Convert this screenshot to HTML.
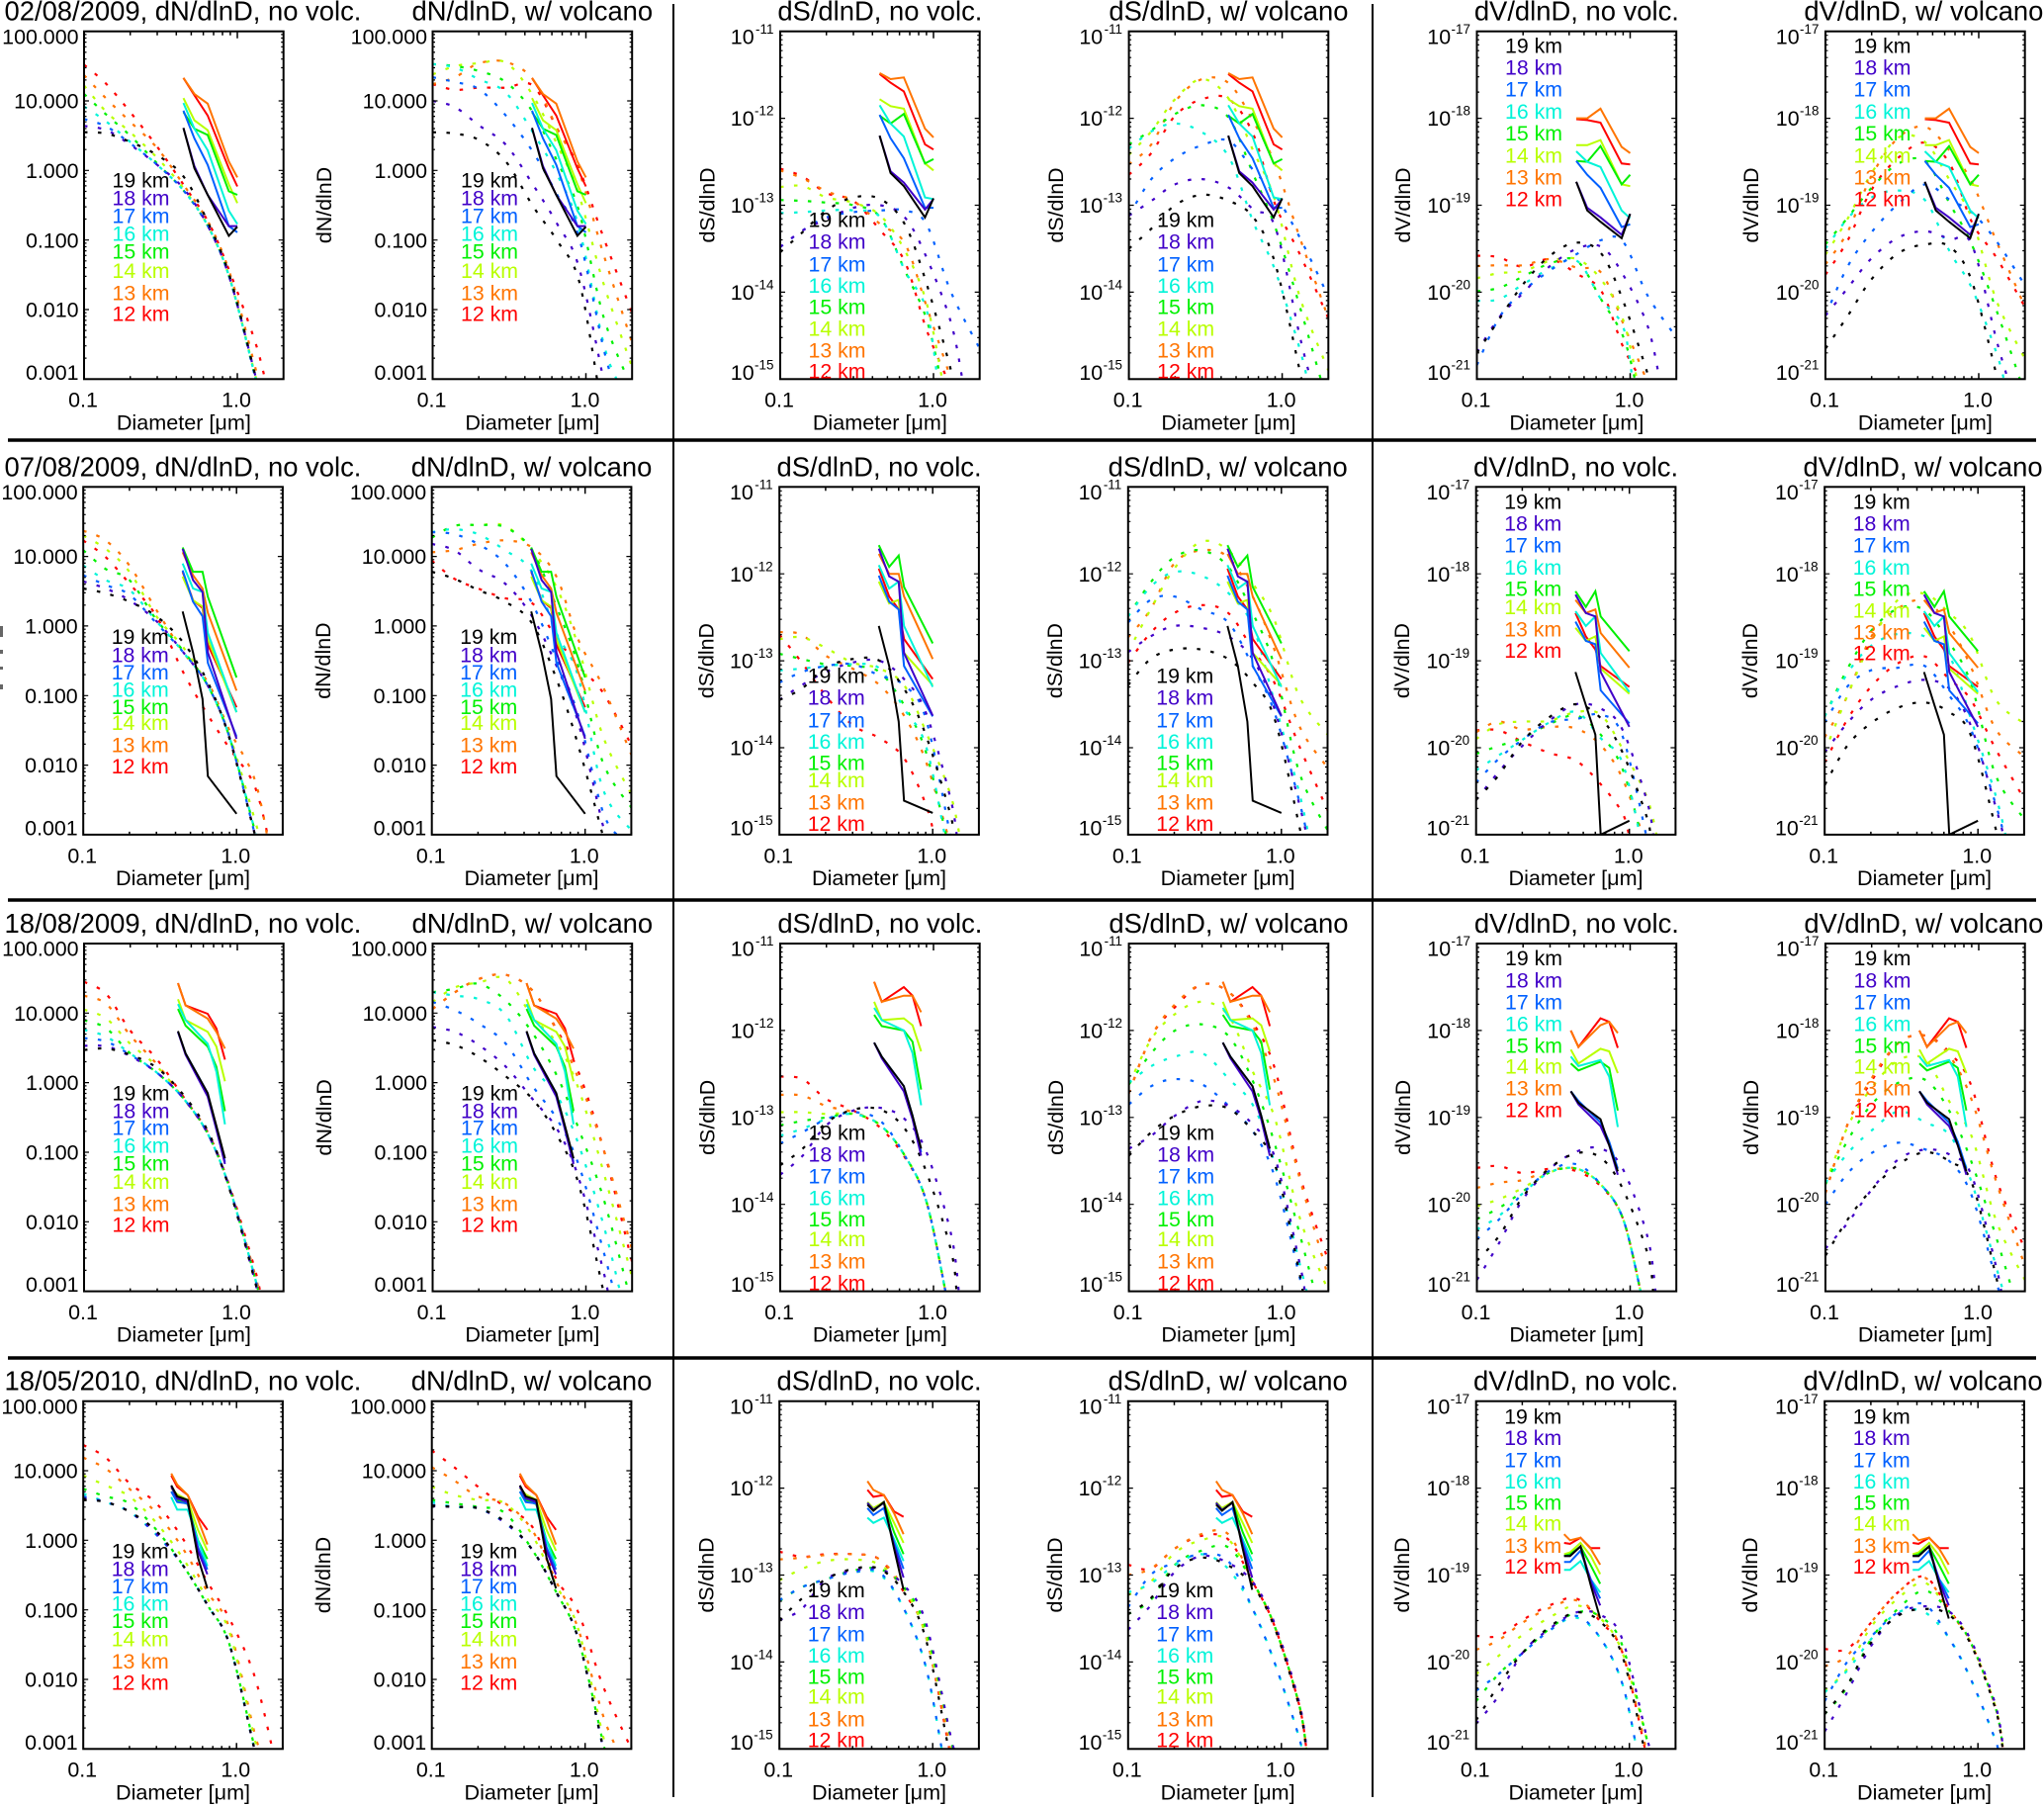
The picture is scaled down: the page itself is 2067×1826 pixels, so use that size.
<!DOCTYPE html>
<html lang="en">
<head>
<meta charset="utf-8">
<title>Aerosol size distributions by altitude</title>
<style>
html,body{margin:0;padding:0;background:#fff;overflow:hidden;}
svg{display:block;font-family:"Liberation Sans",sans-serif;}
</style>
</head>
<body>
<svg id="figure" xmlns="http://www.w3.org/2000/svg" width="2067" height="1826" viewBox="0 0 2067 1826">
<rect x="0" y="0" width="2067" height="1826" fill="#fff"/>
<line x1="8" x2="2059" y1="445" y2="445" stroke="#000" stroke-width="3.5"/>
<line x1="8" x2="2059" y1="910" y2="910" stroke="#000" stroke-width="3.5"/>
<line x1="8" x2="2059" y1="1373" y2="1373" stroke="#000" stroke-width="3.5"/>
<line x1="681" x2="681" y1="4" y2="1817" stroke="#000" stroke-width="2"/>
<line x1="1388" x2="1388" y1="4" y2="1817" stroke="#000" stroke-width="2"/>
<g fill="#666">
<rect x="0" y="633" width="3" height="11"/><rect x="0" y="657" width="3" height="4"/><rect x="0" y="674" width="3" height="3"/><rect x="0" y="692" width="3" height="5"/>
</g>
</svg>
<script>
// All curve values are log10 of the plotted quantity; series order is 19,18,17,16,15,14,13,12 km.
const altitudes = ['19 km','18 km','17 km','16 km','15 km','14 km','13 km','12 km'];
const altitudeColors = ['#000000','#4000c8','#0060ff','#00f4d8','#00f000','#b8ff00','#ff7400','#ff0000'];
const dates = ['02/08/2009','07/08/2009','18/08/2009','18/05/2010'];
const panelTitles = ['dN/dlnD, no volc.','dN/dlnD, w/ volcano','dS/dlnD, no volc.','dS/dlnD, w/ volcano','dV/dlnD, no volc.','dV/dlnD, w/ volcano'];
const yTitles = ['dN/dlnD','dN/dlnD','dS/dlnD','dS/dlnD','dV/dlnD','dV/dlnD'];
const xTickValues = [0.1,1.0];
const xTickLabels = ['0.1','1.0'];
const xMinorTicks = [0.2,0.3,0.4,0.5,0.6,0.7,0.8,0.9,2.0];
const xAxisTitle = 'Diameter [\u03bcm]';
const dnTickLabels = ['100.000','10.000','1.000','0.100','0.010','0.001'];
const dnTickLogs = [2,1,0,-1,-2,-3];
const dsTickLabels = ['-11','-12','-13','-14','-15'];
const dsTickLogs = [-11,-12,-13,-14,-15];
const dvTickLabels = ['-17','-18','-19','-20','-21'];
const dvTickLogs = [-17,-18,-19,-20,-21];

const modelDiameters = [0.1,0.14,0.2,0.3,0.45,0.65,0.9,1.3,2.0];

const r1DnNo = [[.55,.53,.41,.22,-.1,-.77,-1.55,-2.92,-4.6],[.64,.58,.37,.08,-.27,-.82,-1.58,-2.92,-4.6],[.74,.63,.39,.08,-.3,-.82,-1.58,-2.95,-4.6],[.92,.7,.41,.08,-.3,-.82,-1.58,-2.95,-4.6],[1.1,.8,.5,.1,-.3,-.82,-1.58,-2.95,-4.6],[1.22,.84,.55,.18,-.27,-.82,-1.58,-2.92,-4.6],[1.37,1.03,.7,.32,-.22,-.75,-1.5,-2.81,-4.4],[1.52,1.24,.84,.34,-.22,-.75,-1.48,-2.45,-4]];
const r1DnVolc = [[.55,.53,.44,.13,-.51,-1.01,-1.58,-3.5,-5.5],[1,.91,.65,.37,-.2,-.77,-1.39,-3,-5],[1.34,1.27,1.17,.79,.27,-.35,-.96,-2.55,-4],[1.53,1.48,1.31,1.12,.55,-.06,-.82,-2.48,-3.6],[1.53,1.5,1.43,1.27,.84,.13,-.58,-2.1,-3.15],[1.38,1.5,1.54,1.55,1.08,.37,-.35,-1.62,-2.83],[1.24,1.34,1.54,1.56,1.31,.6,-.01,-1.2,-2.48],[1.24,1.16,1.19,1.19,1.22,.6,.03,-.96,-2.05]];
const r1DsNo = [[-13.54,-13.31,-13.06,-12.91,-12.93,-13.22,-13.9,-14.9,-17],[-13.48,-13.29,-13.16,-13.03,-13,-13.14,-13.6,-14.35,-16],[-13.48,-13.29,-13.14,-13.08,-13.06,-13.06,-13.22,-14,-14.65],[-13.09,-13.08,-13.06,-13.06,-13.14,-13.75,-14.2,-16,-18],[-12.94,-12.95,-12.97,-13,-13.14,-13.75,-14.31,-15.5,-18],[-12.79,-12.78,-12.91,-12.97,-13.12,-13.52,-14.12,-15.5,-18],[-12.6,-12.69,-12.84,-12.95,-13.22,-13.44,-14.16,-15,-18],[-12.58,-12.67,-12.86,-12.95,-13.29,-13.65,-14.43,-15.1,-18]];
const r1DsVolc = [[-13.5,-13.27,-13,-12.88,-12.95,-13.14,-13.67,-14.9,-17],[-13.12,-12.95,-12.76,-12.7,-12.8,-13.05,-13.25,-14.5,-15.8],[-13.12,-12.7,-12.46,-12.31,-12.26,-12.6,-12.88,-13.37,-14.05],[-12.35,-12.15,-12.06,-12.16,-12.45,-13.2,-13.75,-14.65,-16],[-12.3,-12.14,-11.95,-11.85,-12,-12.65,-13.25,-14.16,-15.3],[-12.42,-12.15,-11.78,-11.55,-11.78,-12.38,-12.95,-14.05,-14.9],[-12.53,-12.3,-11.81,-11.55,-11.6,-12.04,-12.53,-13.37,-14.3],[-12.65,-12.4,-11.97,-11.78,-11.78,-12.19,-12.99,-13.56,-14.3]];
const r1DvNo = [[-20.7,-20.31,-19.91,-19.58,-19.43,-19.56,-20.1,-20.94,-22.87],[-20.69,-20.29,-20.01,-19.7,-19.5,-19.48,-19.8,-20.39,-21.87],[-20.84,-20.29,-19.99,-19.75,-19.56,-19.4,-19.42,-20.04,-20.52],[-20.1,-20.08,-19.91,-19.73,-19.64,-20.09,-20.4,-22,-24],[-19.99,-19.95,-19.82,-19.67,-19.64,-20.09,-20.51,-21.54,-24],[-19.84,-19.78,-19.76,-19.64,-19.62,-19.86,-20.32,-21.54,-24],[-19.7,-19.69,-19.69,-19.62,-19.72,-19.78,-20.36,-21.04,-24],[-19.58,-19.6,-19.71,-19.62,-19.79,-19.99,-20.63,-21.14,-24]];
const r1DvVolc = [[-20.65,-20.27,-19.85,-19.55,-19.45,-19.48,-19.87,-20.94,-22.87],[-20.27,-19.95,-19.61,-19.37,-19.3,-19.39,-19.45,-20.54,-21.67],[-20.27,-19.7,-19.31,-18.98,-18.76,-18.94,-19.08,-19.41,-19.92],[-19.5,-19.15,-18.91,-18.83,-18.95,-19.54,-19.95,-20.69,-21.87],[-19.45,-19.14,-18.8,-18.52,-18.5,-18.99,-19.45,-20.2,-21.17],[-19.57,-19.15,-18.63,-18.22,-18.28,-18.72,-19.15,-20.09,-20.77],[-19.68,-19.3,-18.66,-18.22,-18.1,-18.38,-18.73,-19.41,-20.17],[-19.8,-19.4,-18.82,-18.45,-18.28,-18.53,-19.19,-19.6,-20.17]];

const r2DnNo = [[.54,.47,.35,.14,-.24,-.81,-1.62,-2.95,-4.7],[.64,.54,.37,.07,-.38,-.86,-1.6,-2.95,-4.7],[.73,.59,.45,.04,-.38,-.86,-1.6,-2.95,-4.7],[.87,.66,.52,.07,-.38,-.86,-1.6,-2.9,-4.7],[1.09,.82,.66,.09,-.36,-.86,-1.6,-2.9,-4.7],[1.3,1.11,.78,.14,-.31,-.86,-1.57,-2.75,-4.2],[1.37,1.23,.87,.23,-.38,-.81,-1.5,-2.18,-4],[1.23,.99,.61,.14,-.67,-1.28,-1.76,-2.28,-3.8]];
const r2DnVolc = [[.78,.68,.52,.35,.04,-.76,-1.71,-3,-5],[1.18,1.09,.82,.61,.14,-.57,-1.38,-2.85,-4],[1.35,1.32,1.18,.9,.33,-.48,-1.28,-2.66,-3.3],[1.35,1.39,1.32,1.09,.78,-.1,-.72,-2.33,-2.94],[1.27,1.44,1.45,1.42,1.09,.28,-.57,-1.95,-2.61],[1.27,1.44,1.45,1.44,1.09,.56,-.29,-1.57,-2.42],[1.06,1.09,1.18,1.23,1.13,.71,-.19,-.86,-1.85],[.94,.68,.54,.4,.33,-.17,-.57,-.95,-1.71]];
const r2DsNo = [[-13.45,-13.32,-13.08,-12.98,-13,-13.32,-13.85,-14.76,-17],[-13.45,-13.28,-13.13,-13.02,-13,-13.21,-13.59,-14.57,-16.5],[-13.25,-13.13,-13.06,-13.04,-13.17,-13.28,-13.66,-15,-18],[-13.11,-13.09,-13.06,-13.04,-13.09,-13.55,-13.97,-15.3,-18],[-12.92,-12.98,-13.04,-13.06,-13.13,-13.51,-14.04,-15.2,-18],[-12.75,-12.73,-12.85,-13.02,-13.09,-13.28,-13.81,-14.53,-16],[-12.67,-12.7,-12.94,-13.09,-13.28,-13.63,-14.15,-15.1,-18],[-12.7,-13.02,-13.4,-13.74,-13.89,-14.12,-14.65,-15.7,-18]];
const r2DsVolc = [[-13.28,-12.98,-12.87,-12.87,-12.98,-13.25,-13.66,-14.88,-17],[-12.9,-12.72,-12.6,-12.62,-12.72,-12.98,-13.55,-14.63,-16],[-12.56,-12.3,-12.26,-12.41,-12.56,-13.06,-13.59,-14.6,-16],[-12.49,-12.15,-11.98,-12.02,-12.22,-12.6,-13.47,-14.5,-16],[-12.49,-12.1,-11.81,-11.73,-11.92,-12.45,-13.06,-14.27,-14.95],[-12.9,-12.41,-11.94,-11.63,-11.73,-12.11,-12.53,-13.4,-13.85],[-12.73,-12.41,-11.88,-11.73,-11.81,-12.26,-12.87,-13.74,-14.23],[-13.02,-12.68,-12.45,-12.36,-12.45,-12.87,-13.25,-13.97,-14.72]];
const r2DvNo = [[-20.6,-20.32,-19.93,-19.65,-19.5,-19.66,-20.05,-20.8,-22.87],[-20.6,-20.28,-19.98,-19.69,-19.5,-19.55,-19.79,-20.61,-22.37],[-20.4,-20.13,-19.91,-19.71,-19.67,-19.62,-19.86,-21.04,-24],[-20.26,-20.09,-19.91,-19.71,-19.59,-19.89,-20.17,-21.34,-24],[-20.07,-19.98,-19.89,-19.73,-19.63,-19.85,-20.24,-21.24,-24],[-19.9,-19.73,-19.7,-19.69,-19.59,-19.62,-20.01,-20.57,-21.87],[-19.82,-19.7,-19.79,-19.76,-19.78,-19.97,-20.35,-21.14,-24],[-19.8,-19.8,-19.93,-20.06,-20.15,-20.42,-20.75,-21.74,-24]];
const r2DvVolc = [[-20.43,-19.98,-19.72,-19.54,-19.48,-19.59,-19.86,-20.92,-22.87],[-20.05,-19.72,-19.45,-19.29,-19.22,-19.32,-19.75,-20.67,-21.87],[-19.71,-19.3,-19.11,-19.08,-19.06,-19.4,-19.79,-20.64,-21.87],[-19.64,-19.15,-18.83,-18.69,-18.72,-18.94,-19.67,-20.54,-21.87],[-19.64,-19.1,-18.66,-18.4,-18.42,-18.79,-19.26,-20.31,-20.82],[-20.05,-19.41,-18.79,-18.3,-18.23,-18.45,-18.73,-19.44,-19.72],[-19.88,-19.41,-18.73,-18.4,-18.31,-18.6,-19.07,-19.78,-20.1],[-20.17,-19.68,-19.3,-19.03,-18.95,-19.21,-19.45,-20.01,-20.59]];

const r3DnNo = [[.47,.49,.4,.21,-.19,-.72,-1.57,-2.85,-4.7],[.53,.52,.38,.14,-.24,-.76,-1.55,-2.85,-4.7],[.64,.59,.4,.14,-.24,-.76,-1.55,-2.8,-4.6],[.76,.66,.42,.14,-.24,-.76,-1.55,-2.8,-4.6],[.9,.78,.42,.14,-.24,-.76,-1.55,-2.8,-4.6],[1.05,.92,.56,.23,-.24,-.76,-1.55,-2.8,-4.6],[1.25,1.13,.68,.26,-.24,-.76,-1.55,-2.75,-4.5],[1.45,1.27,.75,.33,-.22,-.74,-1.52,-2.68,-4.5]];
const r3DnVolc = [[.61,.54,.37,.09,-.24,-.76,-1.47,-3,-5],[.8,.73,.54,.23,-.24,-.67,-1.38,-2.71,-4.7],[1.16,1.04,.85,.56,-.05,-.53,-1.19,-2.42,-4],[1.3,1.25,1.2,.97,.23,-.19,-.9,-2.04,-3.7],[1.3,1.35,1.42,1.18,.71,.09,-.67,-1.66,-3.2],[1.16,1.37,1.44,1.49,.94,.56,-.1,-1.28,-2.8],[1.06,1.3,1.49,1.55,1.32,.73,.04,-.95,-2.4],[1.06,1.3,1.49,1.55,1.32,.75,.14,-.95,-2.58]];
const r3DsNo = [[-13.55,-13.36,-13.06,-12.91,-12.91,-13.13,-13.63,-14.53,-17],[-13.66,-13.44,-13.09,-12.92,-12.89,-13.02,-13.4,-14.34,-16.8],[-13.3,-13.17,-13.02,-12.94,-13.04,-13.44,-13.97,-15.3,-18],[-13.21,-13.13,-13.02,-12.96,-13.09,-13.44,-13.97,-15.3,-18],[-13.09,-13.04,-13,-12.96,-13.09,-13.44,-13.97,-15.3,-18],[-12.94,-12.94,-12.96,-12.96,-13.09,-13.44,-13.97,-15.3,-18],[-12.74,-12.75,-12.87,-12.94,-13.09,-13.44,-13.97,-15.3,-18],[-12.53,-12.56,-12.79,-12.92,-13.12,-13.46,-13.97,-15.3,-18]];
const r3DsVolc = [[-13.44,-13.17,-12.98,-12.87,-12.9,-13.17,-13.55,-14.8,-17],[-13.36,-13.21,-12.98,-12.81,-12.87,-13.09,-13.47,-14.68,-16.5],[-12.85,-12.64,-12.56,-12.62,-12.87,-13.17,-13.7,-14.84,-16.5],[-12.6,-12.41,-12.3,-12.26,-12.56,-12.87,-13.55,-14.68,-16],[-12.62,-12.26,-12,-11.93,-12.07,-12.6,-13.32,-14.34,-15.6],[-12.62,-12.1,-11.81,-11.67,-11.84,-12.49,-13.02,-14.15,-15],[-12.72,-12.07,-11.7,-11.47,-11.56,-11.96,-12.6,-13.7,-14.84],[-12.72,-12.07,-11.73,-11.47,-11.56,-11.92,-12.45,-13.66,-14.65]];
const r3DvNo = [[-20.65,-20.36,-19.91,-19.58,-19.41,-19.47,-19.83,-20.57,-22.87],[-20.87,-20.44,-19.94,-19.59,-19.39,-19.36,-19.6,-20.38,-22.67],[-20.4,-20.17,-19.87,-19.61,-19.54,-19.78,-20.17,-21.34,-24],[-20.29,-20.13,-19.87,-19.63,-19.59,-19.78,-20.17,-21.34,-24],[-20.17,-20.04,-19.85,-19.63,-19.59,-19.78,-20.17,-21.34,-24],[-20.02,-19.94,-19.81,-19.63,-19.59,-19.78,-20.17,-21.34,-24],[-19.81,-19.75,-19.72,-19.61,-19.59,-19.78,-20.17,-21.34,-24],[-19.58,-19.56,-19.64,-19.59,-19.62,-19.8,-20.17,-21.34,-24]];
const r3DvVolc = [[-20.59,-20.17,-19.83,-19.54,-19.4,-19.51,-19.75,-20.84,-22.87],[-20.51,-20.21,-19.83,-19.48,-19.37,-19.43,-19.67,-20.72,-22.37],[-20,-19.64,-19.41,-19.29,-19.37,-19.51,-19.9,-20.88,-22.37],[-19.75,-19.41,-19.15,-18.93,-19.06,-19.21,-19.75,-20.72,-21.87],[-19.77,-19.26,-18.85,-18.6,-18.57,-18.94,-19.52,-20.38,-21.47],[-19.77,-19.1,-18.66,-18.34,-18.34,-18.83,-19.22,-20.19,-20.87],[-19.87,-19.07,-18.55,-18.14,-18.06,-18.3,-18.8,-19.74,-20.71],[-19.87,-19.07,-18.58,-18.14,-18.06,-18.26,-18.65,-19.7,-20.52]];

const r4DnNo = [[.58,.55,.41,.13,-.37,-.94,-1.5,-2.98,-4.5],[.6,.55,.41,.1,-.37,-.94,-1.5,-2.98,-4.5],[.63,.55,.41,.08,-.37,-.94,-1.5,-2.98,-4.5],[.67,.55,.41,.08,-.37,-.94,-1.5,-2.98,-4.5],[.74,.63,.53,.15,-.37,-.94,-1.5,-2.95,-4.5],[.93,.79,.63,.25,-.27,-.85,-1.32,-2.82,-4.5],[1.19,1.03,.74,.39,-.13,-.75,-1.27,-2.74,-4],[1.37,1.19,.82,.53,.01,-.61,-1.13,-1.93,-3.6]];
const r4DnVolc = [[.5,.48,.46,.27,-.13,-.75,-1.41,-2.95,-4.5],[.49,.48,.46,.25,-.13,-.75,-1.41,-2.95,-4.5],[.51,.48,.46,.25,-.13,-.75,-1.41,-2.95,-4.5],[.55,.48,.46,.25,-.13,-.75,-1.41,-2.95,-4.5],[.58,.53,.48,.39,-.13,-.75,-1.41,-2.88,-4.5],[.77,.65,.58,.53,.08,-.65,-1.27,-2.79,-4],[1.05,.86,.63,.53,.15,-.6,-1.27,-2.5,-3.5],[1.29,1.05,.77,.48,.2,-.56,-1.03,-2.08,-3]];
const r4DsNo = [[-13.52,-13.27,-13.05,-12.93,-12.93,-13.2,-13.73,-15.09,-17],[-13.52,-13.39,-13.05,-12.95,-12.93,-13.12,-13.54,-14.83,-16],[-13.29,-13.14,-13.05,-12.97,-12.97,-13.39,-14.05,-15.5,-18],[-13.29,-13.14,-13.05,-12.97,-12.99,-13.39,-14.05,-15.5,-18],[-13.3,-13.14,-13.05,-12.95,-12.93,-13.14,-13.61,-14.85,-17],[-13.06,-12.93,-12.84,-12.82,-12.88,-13.16,-13.69,-14.85,-17],[-12.82,-12.8,-12.77,-12.76,-12.82,-13.16,-13.69,-15,-17],[-12.73,-12.79,-12.76,-12.76,-12.82,-13.2,-13.69,-15.05,-17]];
const r4DsVolc = [[-13.45,-13.27,-12.93,-12.8,-12.89,-13.12,-13.6,-14.5,-16.5],[-13.63,-13.35,-12.97,-12.78,-12.86,-13.08,-13.55,-14.45,-16.5],[-13.37,-13,-12.86,-12.76,-12.84,-13.39,-14,-14.86,-17],[-13.2,-13.1,-12.89,-12.76,-12.93,-13.39,-14,-14.86,-17],[-13.45,-13.29,-12.89,-12.72,-12.68,-13.08,-13.58,-14.48,-16.5],[-13.23,-13.08,-12.75,-12.6,-12.59,-13.08,-13.58,-14.48,-16.5],[-13,-12.93,-12.7,-12.53,-12.53,-13.08,-13.58,-14.48,-16.5],[-12.88,-12.93,-12.7,-12.55,-12.59,-13.08,-13.58,-14.48,-16.5]];
const r4DvNo = [[-20.67,-20.27,-19.9,-19.6,-19.43,-19.54,-19.93,-21.13,-22.87],[-20.71,-20.39,-19.9,-19.62,-19.43,-19.46,-19.74,-20.87,-21.87],[-20.33,-20.14,-19.9,-19.64,-19.47,-19.73,-20.25,-21.54,-24],[-20.33,-20.14,-19.9,-19.64,-19.49,-19.73,-20.25,-21.54,-24],[-20.45,-20.14,-19.9,-19.62,-19.43,-19.48,-19.81,-20.89,-22.87],[-20.14,-19.93,-19.69,-19.49,-19.35,-19.5,-19.89,-20.89,-22.87],[-19.86,-19.75,-19.55,-19.38,-19.29,-19.5,-19.89,-21.04,-22.87],[-19.7,-19.7,-19.52,-19.35,-19.27,-19.54,-19.89,-21.09,-22.87]];
const r4DvVolc = [[-20.6,-20.27,-19.78,-19.47,-19.39,-19.46,-19.8,-20.54,-22.37],[-20.8,-20.35,-19.82,-19.45,-19.36,-19.42,-19.75,-20.49,-22.37],[-20.45,-20,-19.71,-19.43,-19.34,-19.73,-20.2,-20.9,-22.87],[-20.35,-20.1,-19.74,-19.43,-19.43,-19.73,-20.2,-20.9,-22.87],[-20.6,-20.29,-19.74,-19.39,-19.18,-19.42,-19.78,-20.52,-22.37],[-20.33,-20.08,-19.6,-19.27,-19.09,-19.42,-19.78,-20.52,-22.37],[-20.05,-19.93,-19.55,-19.2,-19.03,-19.42,-19.78,-20.52,-22.37],[-19.85,-19.85,-19.55,-19.2,-19.02,-19.4,-19.78,-20.52,-22.37]];

// Measured (solid) profiles: diameters, then log10 values per altitude
const r1MeasuredD = [0.445,0.525,0.64,0.88,1.0];
const r2MeasuredD = [0.445,0.52,0.6,0.65,1.0];
const r3MeasuredD = [0.41,0.46,0.64,0.73,0.83];
const r4MeasuredD = [0.375,0.41,0.48,0.56,0.645];

const r1DnMeasured = [[.61,.03,-.35,-.94,-.81],[.61,.06,-.35,-.8,-.8],[.86,.46,.08,-.8,-.89],[.97,.6,.29,-.58,-.77],[.84,.6,.51,-.3,-.35],[1.04,.72,.58,-.2,-.47],[1.33,1.1,.96,.13,-.1],[1.33,1.08,.79,.03,-.23]];
const r1DsMeasured = [[-12.2,-12.63,-12.78,-13.14,-12.92],[-12.2,-12.61,-12.74,-13.05,-12.93],[-11.96,-12.23,-12.46,-13.03,-13.03],[-11.85,-12.06,-12.21,-12.91,-12.93],[-11.97,-12.06,-11.95,-12.52,-12.47],[-11.78,-11.86,-11.89,-12.52,-12.6],[-11.48,-11.55,-11.53,-12.12,-12.22],[-11.49,-11.59,-11.69,-12.3,-12.36]];
const r1DvMeasured = [[-18.73,-19.06,-19.19,-19.38,-19.1],[-18.73,-19.03,-19.14,-19.34,-19.1],[-18.49,-18.65,-18.8,-19.25,-19.22],[-18.38,-18.5,-18.56,-19.06,-19.15],[-18.49,-18.5,-18.32,-18.76,-18.65],[-18.31,-18.31,-18.25,-18.76,-18.78],[-18,-18,-17.89,-18.33,-18.4],[-18.01,-18.02,-18.05,-18.52,-18.53]];

const r2DnMeasured = [[.21,-.38,-1.05,-2.16,-2.7],[1.11,.66,.49,-.38,-1.62],[.8,.35,.14,-.53,-1.59],[.9,.54,.49,-.1,-1.24],[1.13,.78,.78,.42,-.74],[.71,.37,.28,-.19,-1.24],[1.06,.73,.54,.19,-.93],[.78,.37,.26,-.27,-1.17]];
const r2DsMeasured = [[-12.6,-13.06,-13.7,-14.61,-14.75],[-11.71,-12.03,-12.09,-12.91,-13.63],[-12.02,-12.32,-12.41,-13.06,-13.64],[-11.9,-12.17,-12.09,-12.6,-13.3],[-11.67,-11.92,-11.79,-12.15,-12.8],[-12.09,-12.34,-12.3,-12.91,-13.28],[-11.77,-12,-12,-12.26,-12.98],[-11.94,-12.26,-12.41,-12.75,-13.21]];
const r2DvMeasured = [[-19.13,-19.51,-19.85,-21,-20.84],[-18.24,-18.45,-18.49,-19.13,-19.76],[-18.55,-18.77,-18.81,-19.34,-19.72],[-18.43,-18.6,-18.49,-18.91,-19.36],[-18.2,-18.38,-18.2,-18.49,-18.89],[-18.62,-18.77,-18.72,-19.09,-19.38],[-18.3,-18.45,-18.41,-18.68,-19.08],[-18.45,-18.72,-18.87,-19.06,-19.3]];

const r3DnMeasured = [[.74,.42,-.15,-.62,-1.09],[.73,.4,-.2,-.67,-1.17],[.73,.42,-.15,-.67,-1.14],[1.13,.9,.56,.16,-.6],[1.06,.82,.52,.23,-.41],[1.2,.9,.73,.52,.02],[1.43,1.11,.92,.73,.49],[1.43,1.11,.99,.78,.33]];
const r3DsMeasured = [[-12.14,-12.3,-12.64,-12.98,-13.36],[-12.14,-12.32,-12.7,-13.02,-13.44],[-12.14,-12.3,-12.64,-12.98,-13.4],[-11.74,-11.88,-12,-12.26,-12.86],[-11.82,-11.95,-12,-12.13,-12.68],[-11.67,-11.88,-11.86,-11.94,-12.24],[-11.44,-11.67,-11.6,-11.6,-11.79],[-11.44,-11.67,-11.5,-11.6,-11.95]];
const r3DvMeasured = [[-18.7,-18.83,-19.02,-19.32,-19.62],[-18.7,-18.85,-19.1,-19.32,-19.66],[-18.7,-18.81,-19.06,-19.28,-19.59],[-18.3,-18.41,-18.34,-18.53,-19.11],[-18.38,-18.46,-18.36,-18.43,-18.92],[-18.22,-18.38,-18.21,-18.24,-18.49],[-18,-18.19,-17.94,-17.9,-18.03],[-18,-18.19,-17.86,-17.9,-18.2]];

const r4DnMeasured = [[.79,.63,.58,-.25,-.69],[.77,.6,.55,-.15,-.49],[.7,.55,.53,-.1,-.42],[.62,.44,.44,0,-.37],[.7,.58,.52,0,-.27],[.75,.66,.58,.15,-.15],[.96,.8,.65,.3,-.06],[.93,.77,.65,.34,.15]];
const r4DsMeasured = [[-12.19,-12.26,-12.16,-12.7,-13.17],[-12.17,-12.25,-12.17,-12.67,-13.03],[-12.23,-12.31,-12.23,-12.63,-12.93],[-12.34,-12.4,-12.34,-12.59,-12.84],[-12.17,-12.25,-12.17,-12.51,-12.76],[-12.16,-12.23,-12.16,-12.4,-12.63],[-11.92,-12.02,-12.08,-12.29,-12.53],[-12.02,-12.1,-12.08,-12.27,-12.33]];
const r4DvMeasured = [[-18.78,-18.78,-18.67,-19.12,-19.5],[-18.78,-18.78,-18.67,-19.08,-19.35],[-18.85,-18.85,-18.72,-19.05,-19.27],[-18.94,-18.94,-18.84,-19.05,-19.2],[-18.78,-18.76,-18.67,-18.89,-19.1],[-18.76,-18.74,-18.63,-18.78,-18.99],[-18.53,-18.6,-18.57,-18.7,-18.88],[-18.63,-18.64,-18.57,-18.69,-18.69]];

const legendDnOffsets = [[150,168.3,186,204,222.3,241.6,264.3,285],[151,169.7,187,204.7,222,238,260.7,282.3],[151,168.7,186,203.7,221.7,240.3,262.7,283.7],[151,169,186.6,204,221.6,240,262.6,284.3]];
const legendDsOffsets = [[190,212.3,235,256.7,278.3,300,322.3,343.3],[190.4,212.7,235.4,257,278.7,296,318.4,340],[191,212.7,235,257,278.3,298.3,321,342.7],[190.6,212.6,235,256.6,278.3,298.3,321,342.3]];
const legendDvOffsets = [[14,36,58.3,80.6,102.6,125,147.3,169.3],[14.4,36.7,58.7,81,102.7,121,143.4,165],[14.3,36.7,58.7,81,102.7,123.7,146,167.7],[15,36.6,59,80.6,102.3,123.3,145.6,166.6]];
const legendDvRow2Volc = [14.4,36.7,58.7,81,102.7,124.4,146.7,167.7];

const modelByRow = [[r1DnNo,r1DnVolc,r1DsNo,r1DsVolc,r1DvNo,r1DvVolc],[r2DnNo,r2DnVolc,r2DsNo,r2DsVolc,r2DvNo,r2DvVolc],[r3DnNo,r3DnVolc,r3DsNo,r3DsVolc,r3DvNo,r3DvVolc],[r4DnNo,r4DnVolc,r4DsNo,r4DsVolc,r4DvNo,r4DvVolc]];
const measuredByRow = [[r1DnMeasured,r1DsMeasured,r1DvMeasured],[r2DnMeasured,r2DsMeasured,r2DvMeasured],[r3DnMeasured,r3DsMeasured,r3DvMeasured],[r4DnMeasured,r4DsMeasured,r4DvMeasured]];
const measuredDByRow = [r1MeasuredD,r2MeasuredD,r3MeasuredD,r4MeasuredD];

// ---------- layout ----------
const rowTops = [31.7,492.3,954,1416.7];
const rowShift = [0,-0.8,0,-0.8];
const panelLefts = [85,437.5,789,1141.6,1493.5,1846];
const panelW = 201.7, panelH = 351.6;
const yTitleGap = [0,102.5,66.6,66.6,67.5,68];
const NS = 'http://www.w3.org/2000/svg';
const svg = document.getElementById('figure');
const defs = document.createElementNS(NS,'defs');
svg.appendChild(defs);
const xDecade = panelW / Math.log10(20);
const vScale = 1;

function slug(s){ return s.toLowerCase().replace(/[^a-z0-9]+/g,'-').replace(/^-|-$/g,''); }

function addText(parent, str, x, y, size, anchor, fill, name){
  const el = document.createElementNS(NS,'text');
  
  
  el.setAttribute('transform', 'translate(' + x + ' ' + y + ') scale(1 ' + vScale + ')');
  el.setAttribute('font-size', size);
  el.setAttribute('text-anchor', anchor);
  el.setAttribute('fill', fill);
  el.textContent = str;
  parent.appendChild(el);
  return el;
}

function smoothPath(pts){
  let d = 'M' + pts[0][0].toFixed(1) + ' ' + pts[0][1].toFixed(1);
  for (let i = 0; i < pts.length - 1; i++){
    const p0 = pts[Math.max(i-1,0)], p1 = pts[i], p2 = pts[i+1], p3 = pts[Math.min(i+2,pts.length-1)];
    const c1x = p1[0] + (p2[0]-p0[0])/6, c1y = p1[1] + (p2[1]-p0[1])/6;
    const c2x = p2[0] - (p3[0]-p1[0])/6, c2y = p2[1] - (p3[1]-p1[1])/6;
    d += 'C' + c1x.toFixed(1) + ' ' + c1y.toFixed(1) + ' ' + c2x.toFixed(1) + ' ' + c2y.toFixed(1) + ' ' + p2[0].toFixed(1) + ' ' + p2[1].toFixed(1);
  }
  return d;
}

function linePath(pts){
  return pts.map(function(p,i){ return (i ? 'L' : 'M') + p[0].toFixed(1) + ' ' + p[1].toFixed(1); }).join('');
}

// Ends a curve where it leaves the bottom of the plot so nothing extends past the axis
function stopAtFloor(pts, floor){
  const out = [];
  for (let i = 0; i < pts.length; i++){
    if (pts[i][1] <= floor){
      out.push(pts[i]);
    } else {
      if (i > 0){
        const prev = pts[i-1];
        const t = (floor - prev[1]) / (pts[i][1] - prev[1]);
        out.push([prev[0] + t * (pts[i][0] - prev[0]), floor]);
      }
      break;
    }
  }
  return out;
}

dates.forEach(function(date, r){
  const top = rowTops[r];
  const bottom = top + panelH;
  panelTitles.forEach(function(title, c){
    const kind = Math.floor(c/2);
    const left = panelLefts[c] + rowShift[r];
    const right = left + panelW;
    const logTop = kind === 0 ? 2 : (kind === 1 ? -11 : -17);
    const decades = kind === 0 ? 5 : 4;
    const xOf = function(d){ return left + (Math.log10(d) + 1) * xDecade; };
    const yOf = function(v){ return top + (logTop - v) * panelH / decades; };
    const id = 'r' + (r+1) + 'c' + (c+1);

    const g = document.createElementNS(NS,'g');
    
    
    svg.appendChild(g);

    const clip = document.createElementNS(NS,'clipPath');
    clip.setAttribute('id', 'clip-' + id);
    const clipRect = document.createElementNS(NS,'rect');
    clipRect.setAttribute('x', left);
    clipRect.setAttribute('y', top);
    clipRect.setAttribute('width', panelW);
    clipRect.setAttribute('height', panelH);
    clip.appendChild(clipRect);
    defs.appendChild(clip);

    // curves
    const curves = document.createElementNS(NS,'g');
    
    
    curves.setAttribute('clip-path', 'url(#clip-' + id + ')');
    curves.setAttribute('fill', 'none');
    g.appendChild(curves);

    const model = modelByRow[r][c];
    for (let s = altitudes.length - 1; s >= 0; s--){
      const raw = modelDiameters.map(function(d,i){ return [xOf(d), yOf(model[s][i])]; });
      const pts = stopAtFloor(raw, bottom + 3);
      const path = document.createElementNS(NS,'path');
      
      
      path.setAttribute('d', smoothPath(pts));
      path.setAttribute('stroke', altitudeColors[s]);
      path.setAttribute('stroke-width', '2.2');
      path.setAttribute('stroke-dasharray', '3.5 10.5');
      curves.appendChild(path);
    }
    const measured = measuredByRow[r][kind];
    const measuredD = measuredDByRow[r];
    for (let s = altitudes.length - 1; s >= 0; s--){
      const pts = measuredD.map(function(d,i){ return [xOf(d), yOf(measured[s][i])]; });
      const path = document.createElementNS(NS,'path');
      
      
      path.setAttribute('d', linePath(pts));
      path.setAttribute('stroke', altitudeColors[s]);
      path.setAttribute('stroke-width', '2');
      curves.appendChild(path);
    }

    // frame
    const frame = document.createElementNS(NS,'rect');
    
    
    frame.setAttribute('x', left);
    frame.setAttribute('y', top);
    frame.setAttribute('width', panelW);
    frame.setAttribute('height', panelH);
    frame.setAttribute('fill', 'none');
    frame.setAttribute('stroke', '#000');
    frame.setAttribute('stroke-width', '2');
    g.appendChild(frame);

    // x ticks
    let xd = '';
    xMinorTicks.forEach(function(t){
      const x = xOf(t).toFixed(1);
      xd += 'M' + x + ' ' + top + 'v4M' + x + ' ' + bottom + 'v-3';
    });
    xTickValues.forEach(function(t){
      const x = xOf(t).toFixed(1);
      xd += 'M' + x + ' ' + top + 'v7M' + x + ' ' + bottom + 'v-6';
    });
    const xTicks = document.createElementNS(NS,'path');
    
    
    xTicks.setAttribute('d', xd);
    xTicks.setAttribute('stroke', '#000');
    xTicks.setAttribute('stroke-width', '1.5');
    g.appendChild(xTicks);

    // y ticks
    const tickLogs = kind === 0 ? dnTickLogs : (kind === 1 ? dsTickLogs : dvTickLogs);
    let yd = '';
    tickLogs.forEach(function(t, i){
      const y = yOf(t).toFixed(1);
      yd += 'M' + left + ' ' + y + 'h5M' + right + ' ' + y + 'h-5';
      if (i < tickLogs.length - 1){
        for (let m = 2; m < 10; m++){
          const ym = yOf(t - 1 + Math.log10(m)).toFixed(1);
          yd += 'M' + left + ' ' + ym + 'h2.5M' + right + ' ' + ym + 'h-2.5';
        }
      }
    });
    const yTicks = document.createElementNS(NS,'path');
    
    
    yTicks.setAttribute('d', yd);
    yTicks.setAttribute('stroke', '#000');
    yTicks.setAttribute('stroke-width', '1.2');
    g.appendChild(yTicks);

    // y tick labels
    tickLogs.forEach(function(t, i){
      let shift = 0;
      if (i === 0) shift = 5;
      if (i === tickLogs.length - 1) shift = -7;
      const baseline = yOf(t) + shift + 7.6;
      if (kind === 0){
        addText(g, dnTickLabels[i], left - 5.5, baseline, 21.4, 'end', '#000', 'y-tick-label');
      } else {
        const labels = kind === 1 ? dsTickLabels : dvTickLabels;
        addText(g, '10', left - 26.4, baseline, 21.4, 'end', '#000', 'y-tick-label-base');
        addText(g, labels[i], left - 6.6, baseline - 10.5, 13.4, 'end', '#000', 'y-tick-label-exponent');
      }
    });

    // x labels
    xTickValues.forEach(function(t, i){
      addText(g, xTickLabels[i], xOf(t) - 1, bottom + 28.4, 21.4, 'middle', '#000', 'x-tick-label');
    });
    addText(g, xAxisTitle, left + panelW/2, bottom + 51, 21.6, 'middle', '#000', 'x-axis-title');

    // titles
    if (c === 0){
      addText(g, date + ', ' + title, 4.5, top - 11, 27.4, 'start', '#000', 'row-date-title');
    } else {
      addText(g, title, left + panelW/2 - (c === 5 ? 1.5 : 0), top - 11, 27.4, 'middle', '#000', 'panel-title');
    }

    // y title
    if (c > 0){
      const yt = document.createElementNS(NS,'text');
      
      
      yt.setAttribute('transform', 'translate(' + (left - yTitleGap[c]) + ' ' + (top + 175.8) + ') rotate(-90)');
      yt.setAttribute('font-size', '21.4');
      yt.setAttribute('text-anchor', 'middle');
      yt.setAttribute('fill', '#000');
      yt.textContent = yTitles[c];
      g.appendChild(yt);
    }

    // legend
    let offsets = kind === 0 ? legendDnOffsets[r] : (kind === 1 ? legendDsOffsets[r] : legendDvOffsets[r]);
    if (r === 1 && c === 5) offsets = legendDvRow2Volc;
    const legend = document.createElementNS(NS,'g');
    
    
    g.appendChild(legend);
    altitudes.forEach(function(label, s){
      addText(legend, label, left + 28.5, top + offsets[s] + 7.6, 21.3, 'start', altitudeColors[s], 'legend-entry-' + slug(label));
    });
  });
});
</script>
</body>
</html>
